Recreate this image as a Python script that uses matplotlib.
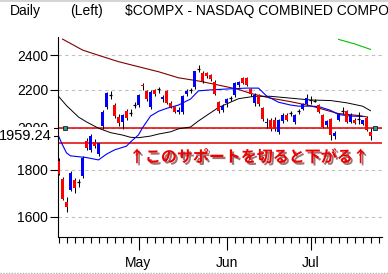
import matplotlib
matplotlib.use("Agg")
import matplotlib.pyplot as plt
import matplotlib.patheffects as pe
from matplotlib.lines import Line2D
from matplotlib.ticker import FixedLocator, FixedFormatter, NullLocator

# --- daily candles (Apr 2 .. Jul 24) ---
opens = [1840, 1760, 1660, 1712, 1755, 1745, 1772, 1935, 1893, 1932,
         1874, 2007, 2106, 2170, 2118, 2056, 2027, 2085, 2078, 2116,
         2116, 2228, 2195, 2105, 2198, 2205, 2150, 2195, 2130, 2108,
         2082, 2082, 2175, 2198, 2215, 2318, 2298, 2293, 2285, 2245,
         2136, 2093, 2128, 2156, 2172, 2228, 2265, 2266, 2205, 2128,
         2172, 2100, 2022, 2040, 2042, 1980, 2033, 2068, 2075, 2032,
         2085, 2098, 2125, 2145, 2140, 2118, 2067, 2015, 2045, 1960,
         2040, 2085, 2087, 2030, 2042, 2046, 2020, 2050, 1977]
highs = [1855, 1768, 1680, 1795, 1762, 1760, 1862, 1948, 1968, 1945,
         1926, 2092, 2190, 2195, 2128, 2070, 2072, 2098, 2096, 2135,
         2180, 2240, 2200, 2200, 2205, 2218, 2170, 2200, 2142, 2112,
         2105, 2172, 2205, 2210, 2310, 2345, 2310, 2300, 2290, 2255,
         2140, 2125, 2155, 2168, 2245, 2252, 2272, 2270, 2212, 2182,
         2180, 2105, 2050, 2048, 2055, 2045, 2075, 2075, 2085, 2072,
         2095, 2130, 2180, 2168, 2150, 2125, 2070, 2042, 2050, 1985,
         2078, 2105, 2092, 2075, 2048, 2080, 2042, 2058, 2000]
lows = [1775, 1668, 1619, 1705, 1698, 1725, 1765, 1890, 1880, 1900,
        1862, 1995, 2095, 2150, 2050, 2010, 1992, 2040, 2062, 2100,
        2108, 2200, 2140, 2095, 2168, 2185, 2135, 2125, 2100, 2075,
        2070, 2070, 2165, 2182, 2205, 2300, 2240, 2265, 2250, 2170,
        2075, 2080, 2110, 2140, 2162, 2218, 2232, 2220, 2165, 2112,
        2115, 2035, 2000, 1985, 1985, 1970, 2025, 2035, 2060, 2020,
        2070, 2090, 2120, 2125, 2132, 2075, 2000, 2005, 1942, 1945,
        2035, 2070, 2025, 2025, 2020, 2018, 2012, 1985, 1942]
closes = [1783, 1673, 1639, 1785, 1720, 1745, 1852, 1899, 1961, 1910,
          1923, 2079, 2182, 2170, 2059, 2022, 2067, 2048, 2078, 2116,
          2172, 2220, 2150, 2191, 2176, 2205, 2160, 2130, 2108, 2082,
          2090, 2166, 2195, 2198, 2305, 2318, 2250, 2278, 2260, 2180,
          2088, 2112, 2150, 2156, 2238, 2242, 2240, 2228, 2176, 2170,
          2122, 2046, 2030, 1992, 1995, 2040, 2067, 2042, 2075, 2068,
          2085, 2125, 2158, 2145, 2140, 2080, 2005, 2035, 1963, 1975,
          2072, 2085, 2030, 2068, 2026, 2046, 2038, 1989, 1959.24]

# moving averages, sampled at trading-day index
ma_short_idx = [0, 1, 2, 3, 6, 7, 10, 12, 14, 17, 18, 20, 21, 23, 25, 27, 30,
                33, 35, 38, 42, 47, 50, 52, 55, 58, 60, 63, 65, 68, 70, 73, 76]
ma_short_val = [1960, 1916, 1878, 1864, 1858, 1856, 1845, 1872, 1892, 1910,
                1930, 1965, 2000, 2060, 2085, 2100, 2118, 2150, 2195, 2200,
                2205, 2210, 2210, 2167, 2133, 2118, 2112, 2112, 2110, 2090,
                2068, 2060, 2058]
ma_mid_idx = [0, 2, 5, 7, 10, 13, 16, 18, 20, 23, 25, 28, 30, 33, 35, 40,
              45, 49, 53, 58, 63, 68, 72, 76, 78]
ma_mid_val = [2165, 2115, 2055, 2030, 1998, 1976, 1964, 1953, 1951, 1959,
              1969, 1980, 1995, 2004, 2035, 2105, 2152, 2165, 2165, 2155,
              2145, 2142, 2130, 2112, 2088]
ma_long_idx = [1, 6, 10, 15, 20, 25, 30, 35, 40, 45, 48, 53, 58, 63, 67, 70,
               75, 77]
ma_long_val = [2500, 2432, 2400, 2362, 2332, 2303, 2268, 2250, 2227, 2203,
               2181, 2155, 2136, 2114, 2090, 2073, 2063, 2056]
green_idx = [70, 74, 78]
green_val = [2498, 2470, 2436]

support_levels = [2000, 1925]
last_price = 1959.24
ytick_vals = [1600, 1800, 2000, 2200, 2400]
month_idx = [20, 42, 63]
month_labels = ["May", "Jun", "Jul"]

plt.rcParams["font.family"] = ["Liberation Sans", "DejaVu Sans"]

W, H = 388, 274
fig = plt.figure(figsize=(W / 100, H / 100), dpi=100)
ax = fig.add_axes([58 / W, 37 / H, 324 / W, 200 / H])
ax.set_yscale("log")
ax.set_xlim(-0.125, 80.875)
ax.set_ylim(1520, 2513)

# grid + support lines
for v in ytick_vals:
    ax.axhline(v, color="#c0c0c0", lw=0.8, ls=(0, (3, 3)), zorder=0)
for v in support_levels:
    ax.axhline(v, color="#e00000", lw=1.1, zorder=1)

# moving averages
ax.plot(ma_long_idx, ma_long_val, color="#800000", lw=0.8, zorder=2)
ax.plot(ma_mid_idx, ma_mid_val, color="black", lw=0.7, zorder=2)
ax.plot(ma_short_idx, ma_short_val, color="#0000ff", lw=0.8, zorder=2)
ax.plot(green_idx, green_val, color="#00c000", lw=0.8, zorder=2)

# candles
for i, (o, h, l, c) in enumerate(zip(opens, highs, lows, closes)):
    ax.vlines(i, l, h, color="black", lw=0.75, zorder=3)
    if o == c:
        ax.hlines(c, i - 0.45, i + 0.45, color="black", lw=0.9, zorder=4)
    else:
        col = "#0000ff" if c > o else "#ff0000"
        ax.bar(i, abs(c - o), bottom=min(o, c), width=0.8, color=col,
               lw=0, zorder=4)

# small handle markers on the 2000 line
ax.plot([1.7, 79.2], [2000, 2000], ls="none", marker="s", ms=3,
        mfc="#20a0a0", mec="black", mew=0.5, zorder=5)

# axes styling
for s in ["top", "right"]:
    ax.spines[s].set_visible(False)
ax.spines["left"].set_linewidth(0.8)
ax.spines["bottom"].set_linewidth(0.8)

ax.yaxis.set_major_locator(FixedLocator(ytick_vals + [last_price]))
ax.yaxis.set_major_formatter(FixedFormatter([str(v) for v in ytick_vals] + [""]))
ax.yaxis.set_minor_locator(NullLocator())
ax.tick_params(axis="y", direction="out", length=6, width=0.8, pad=1,
               labelsize=10)

ax.xaxis.set_major_locator(FixedLocator(month_idx))
ax.xaxis.set_major_formatter(FixedFormatter(month_labels))
ax.xaxis.set_minor_locator(FixedLocator(list(range(0, 81, 2))))
ax.tick_params(axis="x", which="major", direction="out", length=9, width=0.8,
               pad=5, labelsize=10)
ax.tick_params(axis="x", which="minor", direction="out", length=4, width=0.8)

# last price tag
ax.text(-6 / 324, last_price, "1959.24", transform=ax.get_yaxis_transform(),
        ha="right", va="center", fontsize=10.5, clip_on=False, zorder=10,
        bbox=dict(boxstyle="square,pad=0.12", fc="white", ec="none"))

# annotation
fig.text(249 / W, 1 - 157 / H, "↑このサポートを切ると下がる↑",
         family=["Noto Sans CJK JP", "DejaVu Sans"], weight="bold",
         fontsize=11.5, color="#ee0000", ha="center", va="center",
         path_effects=[pe.withSimplePatchShadow(offset=(1.5, -1.5),
                                                shadow_rgbFace="#500000",
                                                alpha=0.55)])

# header
fig.text(10 / W, 1 - 11 / H, "Daily", fontsize=10, va="center")
fig.text(70 / W, 1 - 11 / H, "(Left)", fontsize=10, va="center")
fig.text(125 / W, 1 - 11 / H, "$COMPX - NASDAQ COMBINED COMPOSITE",
         fontsize=10, va="center")

# window borders
fig.add_artist(Line2D([0, 1], [1 - 1 / H, 1 - 1 / H], color="#d4d4d4", lw=1.5))
fig.add_artist(Line2D([0, 1], [1.5 / H, 1.5 / H], color="#b0b0b0", lw=1,
                      ls=(0, (1, 1))))

fig.savefig("out.png", dpi=100)
